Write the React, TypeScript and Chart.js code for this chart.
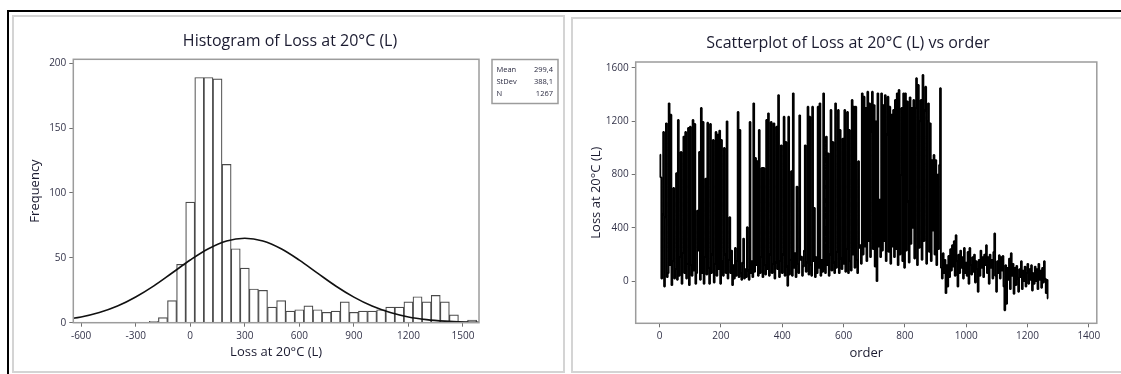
import React, { useEffect, useRef } from "react";
import { Chart, registerables } from "chart.js";

Chart.register(...registerables);

const FONT = "'Open Sans', 'Noto Sans', 'DejaVu Sans', sans-serif";

// ---------------- Histogram data ----------------
const histTitle = "Histogram of Loss at 20°C (L)";
const histXLabel = "Loss at 20°C (L)";
const histYLabel = "Frequency";
const binCenters = [
  -200, -150, -100, -50, 0, 50, 100, 150, 200, 250, 300, 350, 400, 450, 500, 550, 600, 650,
  700, 750, 800, 850, 900, 950, 1000, 1050, 1100, 1150, 1200, 1250, 1300, 1350, 1400, 1450,
  1500, 1550,
];
const binCounts = [
  1, 4, 17, 45, 93, 189, 189, 188, 122, 57, 42, 26, 25, 12, 17, 9, 10, 13,
  10, 8, 9, 16, 8, 9, 9, 10, 12, 12, 16, 20, 16, 21, 16, 6,
  1, 2,
];
const fitX = [-700, -600, -500, -400, -300, -200, -100, 0, 100, 200, 300, 400, 500, 600, 700, 800, 900, 1000, 1100, 1200, 1300, 1400, 1500, 1600];
const fitY = [2.4, 4.4, 7.8, 12.8, 19.8, 28.4, 38.3, 48.3, 57.0, 63.0, 65.1, 63.0, 57.0, 48.2, 38.2, 28.3, 19.7, 12.8, 7.8, 4.4, 2.4, 1.2, 0.5, 0.2];
const histXTicks = [-600, -300, 0, 300, 600, 900, 1200, 1500];
const histYTicks = [0, 50, 100, 150, 200];
const statNames = ["Mean", "StDev", "N"];
const statValues = ["299,4", "388,1", "1267"];

// ---------------- Scatterplot data ----------------
const scatterTitle = "Scatterplot of Loss at 20°C (L) vs order";
const scatterXLabel = "order";
const scatterYLabel = "Loss at 20°C (L)";
const scatterXTicks = [0, 200, 400, 600, 800, 1000, 1200, 1400];
const scatterYTicks = [0, 400, 800, 1200, 1600];
const orderStart = 1;
const orderStep = 3;
// orders 1 .. 916
const lossFirstPhase = [
  950, 780, 20, 500, 1120, -40, 480, 1185, 30, 60, 1335, 120, 1250, -30, 150, 700, 20, 90, 810, 10,
  1210, 40, 180, 970, -20, 210, 1085, 60, 1120, 20, 130, 1150, -30, 1160, 120, 40, 1210, 80, 1180, -20,
  60, 530, 230, 970, 10, 1300, 60, 1195, -20, 180, 770, 50, 1190, 100, -20, 1180, 60, 200, 1060, -10,
  130, 1120, 40, 1100, 90, 1130, -20, 1060, 150, 40, 1000, 200, 60, 1200, 20, 160, 480, 60, 230, -30,
  120, 20, 250, 40, 150, 1270, 30, 1135, 60, 10, 140, 320, 20, 90, 30, 405, 80, 10, 1195, 60,
  150, 30, 1335, 70, 925, 120, 900, 40, 1135, 60, 180, 850, 30, 850, 120, 50, 1210, 90, 1260, 40,
  200, 1195, 60, 130, 1185, 20, 140, 1160, 90, 1397, 30, 150, 1020, 60, 200, 1235, 40, 1045, 110, -35,
  1235, 50, 160, 825, 40, 1410, 100, 210, 30, 710, 130, 60, 1245, 160, 185, 40, 110, 230, 1020, 70,
  140, 1310, 50, 1235, 120, 40, 1310, 150, 550, 30, 180, 60, 1310, 100, 1335, 40, 160, 70, 1410, 90,
  60, 1085, 120, 960, 40, 200, 1285, 80, 1045, 140, 60, 1335, 100, 220, 1285, 60, 1135, 170, 90, 1070,
  130, 1285, 70, 240, 1270, 60, 1135, 150, 80, 1360, 200, 1310, 100, 1310, 160, 60, 900, 250, 270, 130,
  1410, 200, 1385, 260, 1300, 150, 1422, 300, 1335, 180, 1120, 1422, 240, 1322, 110, 1200, 0, 1410, 260, 612,
  180, 1410, 230, 1322, 300, 1397, 150, 1100, 1385, 220, 1310, 130, 1250, 260, 1285, 180, 1360, 240, 1410, 120,
  1435, 200, 797, 1300, 150, 1410, 100, 1410, 230, 1350, 598, 140, 1380, 280, 1300, 400, 1360, 170, 1300, 1523,
  120, 1473, 250, 1200, 1360, 160, 1548, 300, 1280, 1460, 130, 1200, 1335, 220, 1185, 150, 909, 380, 947, 200,
  909, 120, 800, 240, 872, 1448,
];
// orders 919 .. 1267
const lossSecondPhase = [
  100, 20, 210, 60, 160, -90, 120, -40, 190, 30, 240, 80, 270, 110, 300, 40, 345, 150, -40, 200,
  60, 230, 100, 180, 20, 250, 60, 140, 40, 220, -20, 250, 120, 50, 180, 70, 200, -10, 150, 90,
  -80, 160, 40, 230, 100, 180, 30, 200, 120, 270, 60, 180, -20, 200, 100, 160, 20, 220, 358, 40,
  -80, 150, 60, 195, 20, 180, 80, 190, -40, -218, 120, -170, 100, 10, 170, -60, 210, 40, 130, -95,
  100, -30, 115, 20, -80, 90, 30, 150, -60, 80, 0, 110, -40, 60, 130, -20, 90, 10, 120, -70,
  60, -20, 110, 0, 90, -60, 130, 10, 80, -50, 100, -10, 150, 20, -90, 10, -130,
];

function makeDecor(id: string) {
  return {
    id,
    afterDraw(chart: any, _args: any, opts: any) {
      const { ctx, chartArea: a } = chart;
      ctx.save();
      ctx.strokeStyle = "#9c9c9c";
      ctx.lineWidth = 1.5;
      ctx.strokeRect(a.left, a.top, a.right - a.left, a.bottom - a.top);
      ctx.fillStyle = "#1b1b30";
      ctx.font = `16px ${FONT}`;
      ctx.textAlign = "center";
      ctx.textBaseline = "middle";
      ctx.fillText(opts.title, opts.titleX, opts.titleY);
      if (opts.stats) {
        const b = opts.stats;
        ctx.strokeStyle = "#9c9c9c";
        ctx.lineWidth = 1.5;
        ctx.strokeRect(b.x, b.y, b.w, b.h);
        ctx.font = `7.5px ${FONT}`;
        ctx.fillStyle = "#2a2a40";
        statNames.forEach((n, i) => {
          const yy = b.y + 10.5 + i * 11.8;
          ctx.textAlign = "left";
          ctx.fillText(n, b.x + 4.5, yy);
          ctx.textAlign = "right";
          ctx.fillText(statValues[i], b.x + b.w - 5, yy);
        });
      }
      ctx.restore();
    },
  };
}

function axisCommon(ticksArr: number[], size: number, isX: boolean) {
  return {
    type: "linear" as const,
    offset: false,
    afterBuildTicks: (s: any) => {
      s.ticks = ticksArr.map((v) => ({ value: v }));
    },
    afterFit: (s: any) => {
      if (isX) s.height = size;
      else s.width = size;
    },
    grid: {
      drawOnChartArea: false,
      drawTicks: true,
      tickLength: 4,
      color: "#707070",
      lineWidth: 1,
      offset: false,
    },
    border: { display: false },
    ticks: {
      autoSkip: false,
      maxRotation: 0,
      font: { size: 10, family: FONT },
      color: "#34344a",
      padding: 3,
      callback: (v: any) => String(v),
    },
  };
}

function Histogram() {
  const ref = useRef<HTMLCanvasElement>(null);
  useEffect(() => {
    if (!ref.current) return;
    const chart = new Chart(ref.current, {
      type: "bar",
      data: {
        datasets: [
          {
            type: "line" as const,
            data: fitX.map((x, i) => ({ x, y: fitY[i] })),
            borderColor: "#111",
            borderWidth: 1.6,
            pointRadius: 0,
            tension: 0.35,
            fill: false,
            order: 0,
          } as any,
          {
            type: "bar" as const,
            data: binCenters.map((x, i) => ({ x, y: binCounts[i] })),
            backgroundColor: "#ffffff",
            borderColor: "#4a4a4a",
            borderWidth: 1.2,
            barPercentage: 1,
            categoryPercentage: 1,
            order: 1,
          } as any,
        ],
      },
      options: {
        animation: false,
        responsive: false,
        events: [],
        layout: { padding: { left: 13.3, top: 59.3, right: 91, bottom: 1.3 } },
        plugins: {
          legend: { display: false },
          tooltip: { enabled: false },
          histDecor: { title: histTitle, titleX: 290, titleY: 41, stats: { x: 492, y: 59.5, w: 66, h: 44 } },
        } as any,
        scales: {
          x: {
            ...axisCommon(histXTicks, 50, true),
            min: -643,
            max: 1588,
            title: {
              display: true,
              text: histXLabel,
              font: { size: 13, family: FONT },
              color: "#1b1b30",
              padding: { top: 0, bottom: 13 },
            },
          },
          y: {
            ...axisCommon(histYTicks, 60, false),
            min: 0,
            max: 203,
            title: {
              display: true,
              text: histYLabel,
              font: { size: 13, family: FONT },
              color: "#1b1b30",
              padding: { top: 14, bottom: 0 },
            },
          },
        } as any,
      },
      plugins: [makeDecor("histDecor")],
    });
    return () => chart.destroy();
  }, []);
  return (
    <canvas
      ref={ref}
      width={570}
      height={374}
      style={{ position: "absolute", left: 0, top: 0, width: 570, height: 374 }}
    />
  );
}

function Scatter() {
  const ref = useRef<HTMLCanvasElement>(null);
  useEffect(() => {
    if (!ref.current) return;
    const all = [...lossFirstPhase, ...lossSecondPhase];
    const chart = new Chart(ref.current, {
      type: "scatter",
      data: {
        datasets: [
          {
            data: all.map((v, i) => ({ x: orderStart + i * orderStep, y: v })),
            showLine: true,
            stepped: "middle",
            borderColor: "#000",
            borderWidth: 1.8,
            borderJoinStyle: "bevel",
            pointRadius: 0,
            tension: 0,
          } as any,
        ],
      },
      options: {
        animation: false,
        responsive: false,
        events: [],
        layout: { padding: { left: 15.7, top: 62, right: 24.2, bottom: 0.7 } },
        plugins: {
          legend: { display: false },
          tooltip: { enabled: false },
          scatDecor: { title: scatterTitle, titleX: 278, titleY: 43.5 },
        } as any,
        scales: {
          x: {
            ...axisCommon(scatterXTicks, 50, true),
            min: -78,
            max: 1426,
            title: {
              display: true,
              text: scatterXLabel,
              font: { size: 13, family: FONT },
              color: "#1b1b30",
              padding: { top: 0, bottom: 12.6 },
            },
          },
          y: {
            ...axisCommon(scatterYTicks, 50, false),
            min: -316,
            max: 1645,
            title: {
              display: true,
              text: scatterYLabel,
              font: { size: 13, family: FONT },
              color: "#1b1b30",
              padding: { top: 2.6, bottom: 0 },
            },
          },
        } as any,
      },
      plugins: [makeDecor("scatDecor")],
    });
    return () => chart.destroy();
  }, []);
  return (
    <canvas
      ref={ref}
      width={551}
      height={374}
      style={{ position: "absolute", left: 570, top: 0, width: 551, height: 374 }}
    />
  );
}

export default function App() {
  return (
    <div
      style={{
        position: "absolute",
        left: 0,
        top: 0,
        width: 1121,
        height: 374,
        overflow: "hidden",
        background: "#ffffff",
      }}
    >
      <div
        style={{
          position: "absolute",
          left: 7,
          top: 10,
          width: 1130,
          height: 400,
          borderTop: "2px solid #000",
          borderLeft: "2px solid #000",
        }}
      />
      <div
        style={{
          position: "absolute",
          left: 12,
          top: 15,
          width: 549,
          height: 354,
          border: "2px solid #d4d4d4",
        }}
      />
      <div
        style={{
          position: "absolute",
          left: 571,
          top: 17,
          width: 560,
          height: 352,
          border: "2px solid #d4d4d4",
        }}
      />
      <Histogram />
      <Scatter />
    </div>
  );
}
